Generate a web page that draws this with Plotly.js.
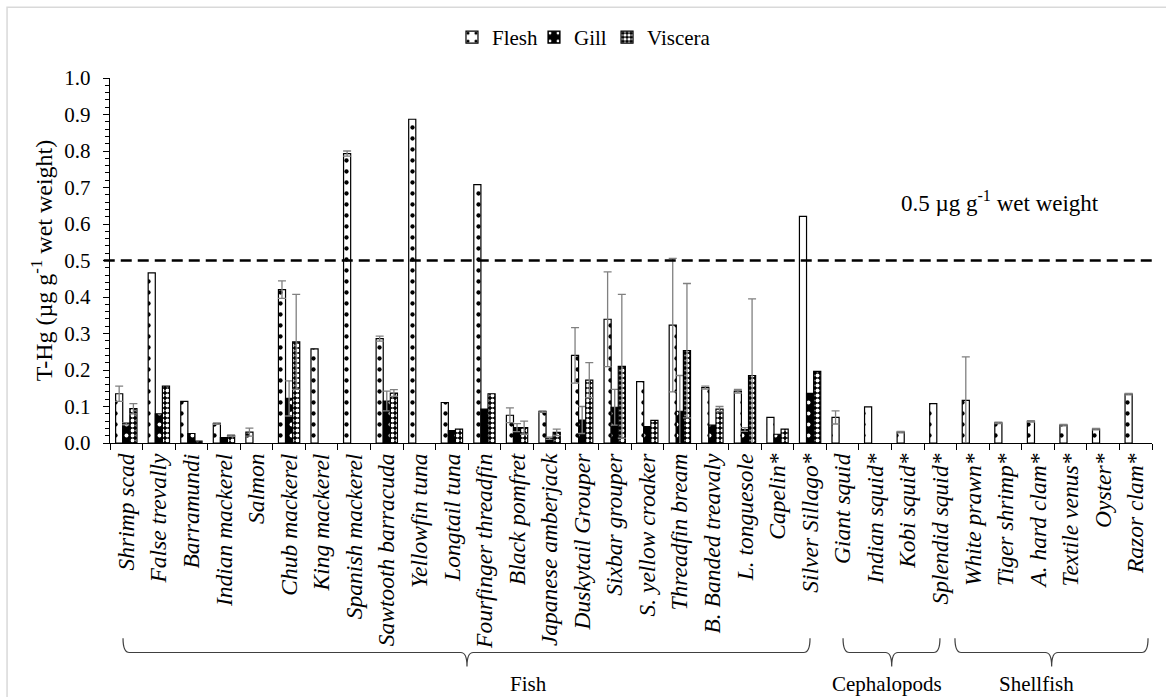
<!DOCTYPE html>
<html>
<head>
<meta charset="utf-8">
<script src="https://cdn.plot.ly/plotly-3.0.1.min.js"></script>
<style>
html,body{margin:0;padding:0;background:#fff;}
#chart{width:1166px;height:697px;}
</style>
</head>
<body>
<div id="chart"></div>
<script>
const categories = ["Shrimp scad","False trevally","Barramundi","Indian mackerel","Salmon","Chub mackerel","King mackerel","Spanish mackerel","Sawtooth barracuda","Yellowfin tuna","Longtail tuna","Fourfinger threadfin","Black pomfret","Japanese amberjack","Duskytail Grouper","Sixbar grouper","S. yellow croaker","Threadfin bream","B. Banded treavaly","L. tonguesole","Capelin*","Silver Sillago*","Giant squid","Indian squid*","Kobi squid*","Splendid squid*","White prawn*","Tiger shrimp*","A. hard clam*","Textile venus*","Oyster*","Razor clam*"];

const flesh = [0.135,0.466,0.114,0.053,0.030,0.420,0.258,0.793,0.286,0.887,0.111,0.708,0.076,0.086,0.240,0.339,0.168,0.323,0.152,0.142,0.070,0.621,0.070,0.099,0.030,0.108,0.117,0.055,0.059,0.049,0.038,0.134];
const fleshErr = [0.021,null,null,0.002,0.011,0.024,null,0.007,0.007,null,null,null,0.020,0.002,0.076,0.130,null,0.183,0.004,0.005,null,null,0.018,null,0.002,null,0.119,0.002,0.002,0.002,0.002,0.002];

const gill = [0.053,0.080,0.026,0.015,null,0.122,null,null,0.115,null,0.034,0.093,0.042,0.013,0.063,0.098,0.045,0.087,0.049,0.037,0.024,0.136,null,null,null,null,null,null,null,null,null,null];
const gillErr = [0.003,null,null,null,null,0.048,null,null,0.027,null,null,null,0.011,0.003,0.037,0.049,null,0.098,null,0.005,null,null,null,null,null,null,null,null,null,null,null,null];

const viscera = [0.094,0.156,0.005,0.020,null,0.277,null,null,0.137,null,0.038,0.135,0.042,0.029,0.172,0.210,0.062,0.253,0.093,0.185,0.038,0.196,null,null,null,null,null,null,null,null,null,null];
const visceraErr = [0.014,null,null,0.002,null,0.130,null,null,0.009,null,null,null,0.018,0.009,0.048,0.197,null,0.184,0.007,0.210,null,null,null,null,null,null,null,null,null,null,null,null];

const yTicks = [0,0.1,0.2,0.3,0.4,0.5,0.6,0.7,0.8,0.9,1.0];
const limitValue = 0.5;
const groups = [
  {name:"Fish", x1:0.0125, x2:0.6718, tip:0.3426, label:0.4012},
  {name:"Cephalopods", x1:0.7035, x2:0.7965, tip:0.7502, label:0.7457},
  {name:"Shellfish", x1:0.8109, x2:0.9962, tip:0.9037, label:0.8887}
];

const FONT = "Liberation Serif";

function mkErr(arr){
  return {type:'data', array:arr.map(v=>v===null?NaN:v), visible:true, color:'#808080', thickness:1.3, width:4};
}

const traces = [
  {type:'bar', name:'Flesh', legend:'legend', x:categories, y:flesh, error_y:mkErr(fleshErr), cliponaxis:false,
   marker:{color:'#ffffff', line:{color:'#000000', width:1.2}, pattern:{shape:'.', fgcolor:'#000000', bgcolor:'#ffffff', size:11, solidity:0.12}}},
  {type:'bar', name:'Gill', legend:'legend2', x:categories, y:gill, error_y:mkErr(gillErr), cliponaxis:false,
   marker:{color:'#000000', line:{color:'#000000', width:1.2}, pattern:{shape:'.', fgcolor:'#ffffff', bgcolor:'#000000', size:11, solidity:0.1}}},
  {type:'bar', name:'Viscera', legend:'legend3', x:categories, y:viscera, error_y:mkErr(visceraErr), cliponaxis:false,
   marker:{color:'#000000', line:{color:'#000000', width:1.2}, pattern:{shape:'.', fgcolor:'#ffffff', bgcolor:'#000000', size:5, solidity:0.5}}}
];

const shapes = [
  {type:'rect', xref:'paper', yref:'paper', x0:-0.0988, x1:1.02, y0:-0.71, y1:1.1937, line:{color:'#d9d9d9', width:1.5}, fillcolor:'rgba(0,0,0,0)', layer:'below'},
  {type:'line', xref:'paper', yref:'y', x0:-0.006, x1:1.0, y0:limitValue, y1:limitValue, line:{color:'#000000', width:2.6, dash:'11px,6px'}}
];
const yt = -0.535, yl = -0.574, yb = -0.612, dx = 0.006;
groups.forEach(g => {
  const p = `M ${g.x1},${yt} Q ${g.x1},${yl} ${g.x1+dx},${yl} L ${g.tip-dx},${yl} Q ${g.tip},${yl} ${g.tip},${yb} Q ${g.tip},${yl} ${g.tip+dx},${yl} L ${g.x2-dx},${yl} Q ${g.x2},${yl} ${g.x2},${yt}`;
  shapes.push({type:'path', xref:'paper', yref:'paper', path:p, line:{color:'#404040', width:1.2}});
});

const annotations = [
  {xref:'paper', yref:'paper', x:0.854, y:0.663, text:'0.5 µg g<sup>-1</sup> wet weight', showarrow:false, xanchor:'center', yanchor:'middle', font:{family:FONT, size:23, color:'#000'}}
];
groups.forEach(g => {
  annotations.push({xref:'paper', yref:'paper', x:g.label, y:-0.66, text:g.name, showarrow:false, xanchor:'center', yanchor:'middle', font:{family:FONT, size:21, color:'#000'}});
});

const legendBase = {orientation:'h', y:1.111, yanchor:'middle', xanchor:'left', font:{family:FONT, size:21, color:'#000'}, itemwidth:30, bgcolor:'rgba(0,0,0,0)'};

const layout = {
  width:1166, height:697,
  margin:{l:110, r:14, t:78, b:254},
  paper_bgcolor:'#ffffff', plot_bgcolor:'#ffffff',
  barmode:'group', bargap:0.345, bargroupgap:0,
  font:{family:FONT, color:'#000'},
  showlegend:true,
  legend:Object.assign({}, legendBase, {x:0.3282}),
  legend2:Object.assign({}, legendBase, {x:0.4069}),
  legend3:Object.assign({}, legendBase, {x:0.4770}),
  xaxis:{type:'category', range:[-0.5, categories.length-0.5], showline:true, linecolor:'#000', linewidth:1.2,
    ticks:'outside', tickson:'boundaries', ticklen:6, tickcolor:'#000', tickangle:-90, showgrid:false, zeroline:false,
    tickfont:{family:FONT, size:23.5, color:'#000', style:'italic'}, automargin:false},
  yaxis:{range:[0,1.0], tickvals:yTicks, ticktext:yTicks.map(v=>v.toFixed(1)), showline:true, linecolor:'#000', linewidth:1.2,
    ticks:'outside', ticklen:6, tickcolor:'#000', showgrid:false, zeroline:false, ticklabelstandoff:8,
    minor:{dtick:0.02, ticks:'outside', ticklen:4, tickcolor:'#000'},
    tickfont:{family:FONT, size:21, color:'#000'}, automargin:false,
    title:{text:'T-Hg (µg g<sup>-1</sup> wet weight)', font:{family:FONT, size:24, color:'#000'}}},
  shapes:shapes, annotations:annotations
};

Plotly.newPlot('chart', traces, layout, {displayModeBar:false, staticPlot:true});
</script>
</body>
</html>
